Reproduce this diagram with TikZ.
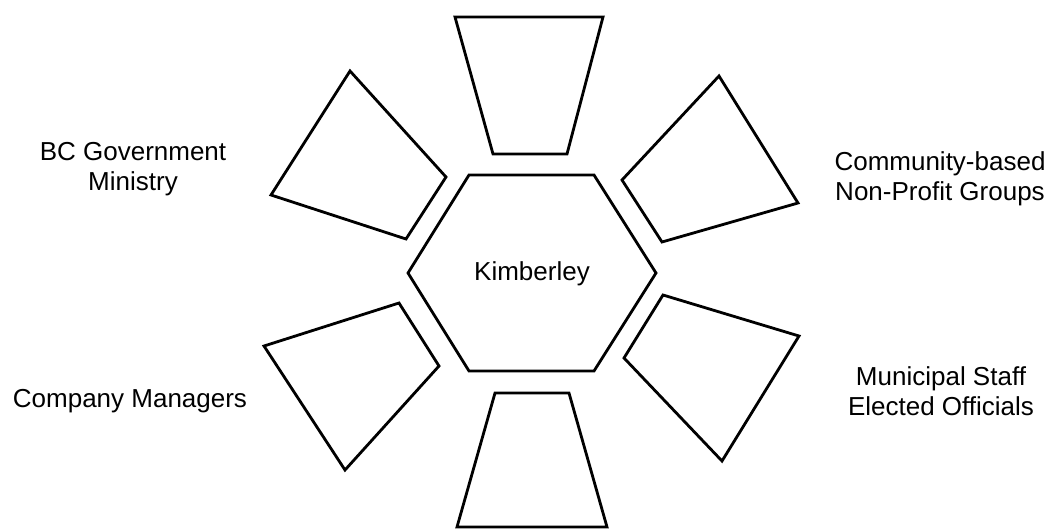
\documentclass[tikz,border=0pt]{standalone}
\usepackage{fontspec}
\setmainfont{Liberation Sans}
\usepackage{tikz}
\usepackage{xcolor}
\definecolor{ink}{HTML}{000000}

\begin{document}
\begin{tikzpicture}[
  x=1pt, y=-1pt,
  plate/.style={draw=ink, line width=2.8pt, line join=miter},
  hubshape/.style={draw=ink, line width=2.8pt, line join=miter},
  lbl/.style={anchor=base, align=center, inner sep=0pt, font=\fontsize{26}{29.5}\selectfont}
]
\useasboundingbox (0,0) rectangle (1052,530);

% centre hexagon
\draw[hubshape] (408,273) -- (469,175) -- (594,175) -- (656,273) -- (594,371) -- (469,371) -- cycle;
\node[lbl] (hub) at (532,280) {Kimberley};

% surrounding plates
\draw[plate] (455,17) -- (603,17) -- (567,154) -- (493,154) -- cycle;
\draw[plate] (719,76) -- (798,203) -- (662,242) -- (622,180) -- cycle;
\draw[plate] (663,295) -- (799,336) -- (722,461) -- (624,358) -- cycle;
\draw[plate] (495,393) -- (569,393) -- (607,527) -- (457,527) -- cycle;
\draw[plate] (399,303) -- (439,366) -- (345,470) -- (264,346) -- cycle;
\draw[plate] (350,71) -- (446,177) -- (406,239) -- (271,195) -- cycle;

% group labels (base = last line)
\node[lbl] (gov) at (133,190) {BC Government\\Ministry};
\node[lbl] (npo) at (940,200) {Community-based\\Non-Profit Groups};
\node[lbl] (mun) at (941,415) {Municipal Staff\\Elected Officials};
\node[lbl] (mgr) at (130,407) {Company Managers};
\end{tikzpicture}
\end{document}
